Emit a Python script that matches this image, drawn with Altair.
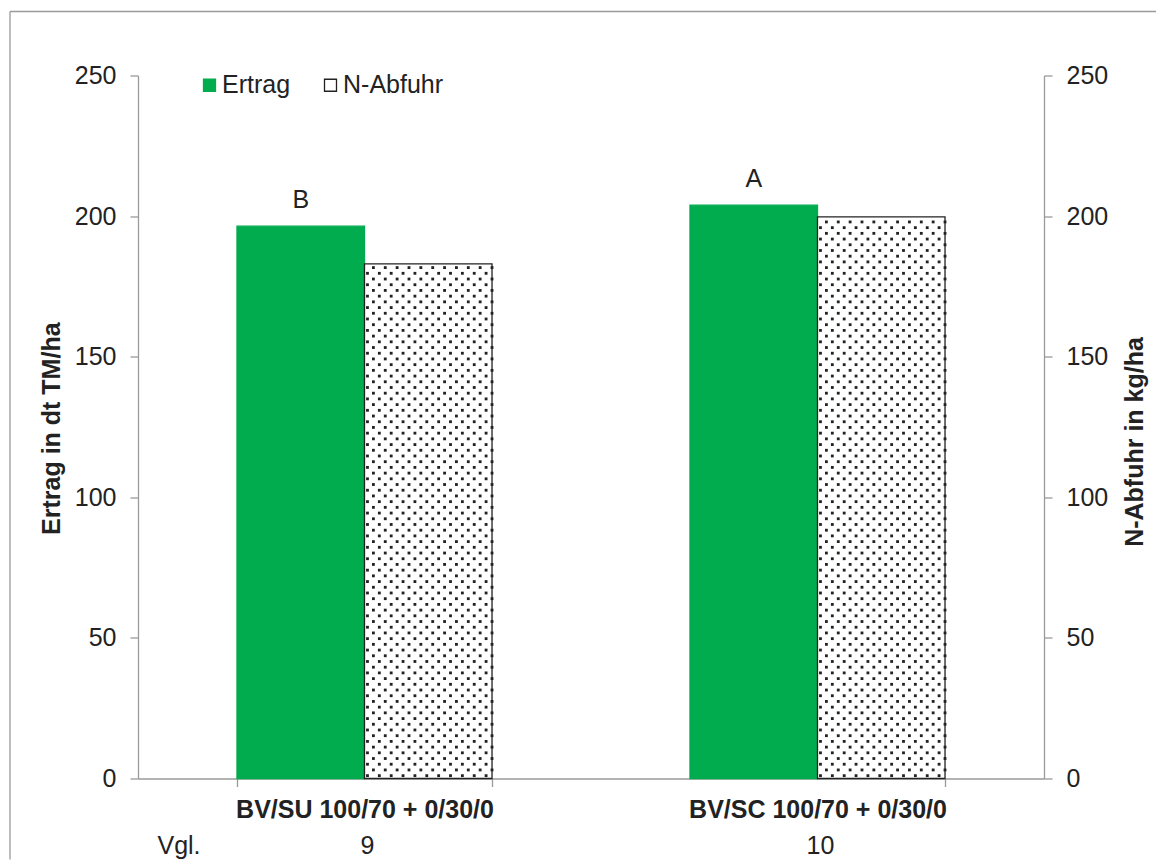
import altair as alt
import pandas as pd

# ---- data ----
categories = ["BV/SU 100/70 + 0/30/0", "BV/SC 100/70 + 0/30/0"]
vgl_numbers = ["9", "10"]
vgl_label = ["Vgl."]
series_names = ["Ertrag", "N-Abfuhr"]
ertrag = [196.4, 203.9]
n_abfuhr = [183.0, 199.7]
letters = ["B", "A"]
y_ticks = [0, 50, 100, 150, 200, 250]

# ---- style ----
GREEN = "#00AC4E"
INK = "#222222"
GRAY = "#9a9a9a"
FONT = "Liberation Sans"
FS = 25
DOT_STEP = 2.03  # vertical spacing of the dotted texture (data units)

ertrag_df = pd.DataFrame({"category": categories, "series": series_names[0],
                          "value": ertrag, "letter": letters})
nab_df = pd.DataFrame({"category": categories, "series": series_names[1],
                       "value": n_abfuhr})
vgl_df = pd.DataFrame({"category": categories, "vgl": vgl_numbers})
vgl_lab_df = pd.DataFrame({"t": vgl_label})
one_df = pd.DataFrame({"a": [0]})

x_scale = alt.Scale(domain=categories, paddingInner=0.437, paddingOuter=0.2185)
x_axis = alt.Axis(title=None, labelFont=FONT, labelFontSize=FS, labelFontWeight="bold",
                  labelColor=INK, labelBaseline="alphabetic", labelPadding=30.5, labelLimit=0,
                  tickSize=8, tickColor=GRAY, domainColor=GRAY, tickBand="extent",
                  labelAngle=0, domainWidth=1.3, tickWidth=1.3)
x_enc = alt.X("category:N", scale=x_scale, axis=x_axis, sort=categories)
off_enc = alt.XOffset("series:N", scale=alt.Scale(domain=series_names, paddingInner=0, paddingOuter=0))

legend = alt.Legend(title=None, orient="none", legendX=59, legendY=-3, direction="horizontal",
                    symbolType="square", symbolSize=144, symbolStrokeWidth=1.3,
                    labelFont=FONT, labelFontSize=FS, labelColor=INK, labelOffset=0,
                    columnPadding=27, padding=0)
color_enc = alt.Color("series:N", scale=alt.Scale(domain=series_names, range=[GREEN, "white"]), legend=legend)
stroke_enc = alt.Stroke("series:N", scale=alt.Scale(domain=series_names, range=[GREEN, INK]), legend=legend)

y_scale = alt.Scale(domain=[0, 250], nice=False, zero=True)


def y_axis(orient, title, tx, ty):
    return alt.Axis(orient=orient, values=y_ticks, title=title, grid=False,
                    titleFont=FONT, titleFontSize=FS, titleFontWeight="bold", titleColor=INK,
                    titleX=tx, titleY=ty, titleAngle=270, titleAlign="center",
                    titleBaseline="alphabetic",
                    labelFont=FONT, labelFontSize=FS, labelColor=INK, labelPadding=14,
                    tickSize=8, tickColor=GRAY, domainColor=GRAY, domainWidth=1.3, tickWidth=1.3)


left_axis = y_axis("left", "Ertrag in dt TM/ha", -79, 352.7)
right_axis = y_axis("right", "N-Abfuhr in kg/ha", 98.5, 366)

ertrag_bars = alt.Chart(ertrag_df).mark_bar(strokeWidth=1.3).encode(
    x=x_enc, xOffset=off_enc,
    y=alt.Y("value:Q", scale=y_scale, axis=left_axis),
    color=color_enc, stroke=stroke_enc,
)
letter_text = alt.Chart(ertrag_df).mark_text(font=FONT, fontSize=FS, color=INK,
                                             baseline="middle", dy=-26).encode(
    x=x_enc, xOffset=off_enc,
    y=alt.Y("value:Q", scale=y_scale, axis=left_axis),
    text="letter:N",
)
left = alt.layer(ertrag_bars, letter_text)

nab_bars = alt.Chart(nab_df).mark_bar(strokeWidth=1.3).encode(
    x=x_enc, xOffset=off_enc,
    y=alt.Y("value:Q", scale=y_scale, axis=right_axis),
    color=color_enc, stroke=stroke_enc,
)
dots = alt.Chart(nab_df).transform_calculate(
    row=f"sequence(0, floor(datum.value / {DOT_STEP}))"
).transform_flatten(["row"]).transform_calculate(
    col="sequence(22, 44)"
).transform_flatten(["col"]).transform_filter(
    "(datum.row + datum.col) % 2 == 0"
).transform_calculate(
    dot_y=f"(datum.row + 0.5) * {DOT_STEP}"
).mark_square(size=8, color=INK, filled=True, opacity=1).encode(
    x=x_enc,
    xOffset=alt.XOffset("col:O", scale=alt.Scale(domain=list(range(44)), paddingInner=0, paddingOuter=0)),
    y=alt.Y("dot_y:Q", scale=y_scale, axis=right_axis),
)
right = alt.layer(nab_bars, dots).resolve_scale(xOffset="independent")

vgl_text = alt.Chart(vgl_df).mark_text(font=FONT, fontSize=FS, color=INK,
                                       baseline="alphabetic", dx=3).encode(
    x=x_enc, y=alt.value(778), text="vgl:N",
)
vgl_lab = alt.Chart(vgl_lab_df).mark_text(font=FONT, fontSize=FS, color=INK,
                                          baseline="alphabetic").encode(
    x=alt.value(41), y=alt.value(778), text="t:N",
)
frame_top = alt.Chart(one_df).mark_rule(color=GRAY, strokeWidth=1.3).encode(
    x=alt.value(-128), x2=alt.value(1018), y=alt.value(-64),
)
frame_left = alt.Chart(one_df).mark_rule(color=GRAY, strokeWidth=1.3).encode(
    x=alt.value(-128), y=alt.value(-64), y2=alt.value(784),
)

chart = alt.layer(left, right, vgl_text, vgl_lab, frame_top, frame_left).resolve_scale(
    y="independent", xOffset="independent"
).properties(
    width=906, height=703,
    padding={"left": 1, "top": 2.5, "right": 0, "bottom": 0},
).configure_view(stroke=None)

chart.save("out.html", embed_options={"renderer": "svg", "actions": False})
